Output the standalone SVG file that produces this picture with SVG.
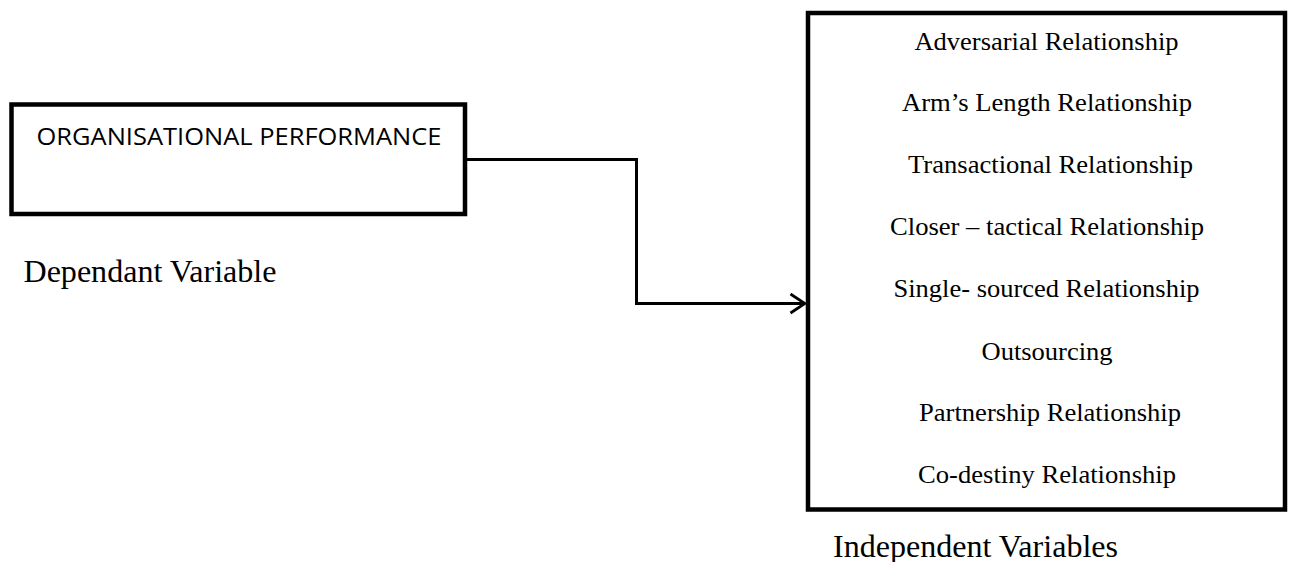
<svg xmlns="http://www.w3.org/2000/svg" width="1289" height="562" viewBox="0 0 1289 562">
<style>
.box{fill:#fff;stroke:#000;stroke-width:4.5}
.conn{fill:none;stroke:#000;stroke-width:3}
.serif{font-family:"Liberation Serif","Times New Roman",serif;fill:#000}
.item{font-size:26px}
.cap{font-size:31.5px}
.sans{font-family:"Open Sans","Liberation Sans",Arial,sans-serif;font-size:23px;fill:#000}
</style>
<defs>
<marker id="arrow" viewBox="0 0 18 22" refX="16" refY="11" markerWidth="18" markerHeight="22" markerUnits="userSpaceOnUse" orient="auto">
<path d="M1.5,1.5 L16,11 L1.5,20.5" fill="none" stroke="#000" stroke-width="2.8"/>
</marker>
</defs>
<rect width="1289" height="562" fill="#fff"/>
<g id="connectors">
<path class="conn" d="M467,159.5 H636.5 V303.5 H805" marker-end="url(#arrow)"/>
</g>
<g id="dependent-node">
<rect class="box" x="11.5" y="104.5" width="453.5" height="109.5"/>
<text class="sans" x="36.5" y="144.5" textLength="405" lengthAdjust="spacingAndGlyphs">ORGANISATIONAL PERFORMANCE</text>
</g>
<g id="dependent-label">
<text class="serif cap" x="23.5" y="282" textLength="253" lengthAdjust="spacingAndGlyphs">Dependant Variable</text>
</g>
<g id="independent-node">
<rect class="box" x="808" y="13" width="477" height="496.5"/>
<text class="serif item" x="914.5" y="49.5" textLength="264" lengthAdjust="spacingAndGlyphs">Adversarial Relationship</text>
<text class="serif item" x="902" y="111" textLength="290" lengthAdjust="spacingAndGlyphs">Arm’s Length Relationship</text>
<text class="serif item" x="908" y="173" textLength="285" lengthAdjust="spacingAndGlyphs">Transactional Relationship</text>
<text class="serif item" x="890" y="235" textLength="314" lengthAdjust="spacingAndGlyphs">Closer – tactical Relationship</text>
<text class="serif item" x="893.5" y="297" textLength="306" lengthAdjust="spacingAndGlyphs">Single- sourced Relationship</text>
<text class="serif item" x="981.5" y="359.5" textLength="131" lengthAdjust="spacingAndGlyphs">Outsourcing</text>
<text class="serif item" x="919" y="421" textLength="262" lengthAdjust="spacingAndGlyphs">Partnership Relationship</text>
<text class="serif item" x="918" y="482.5" textLength="258" lengthAdjust="spacingAndGlyphs">Co-destiny Relationship</text>
</g>
<g id="independent-label">
<text class="serif cap" x="833" y="556.5" textLength="285" lengthAdjust="spacingAndGlyphs">Independent Variables</text>
</g>
</svg>
